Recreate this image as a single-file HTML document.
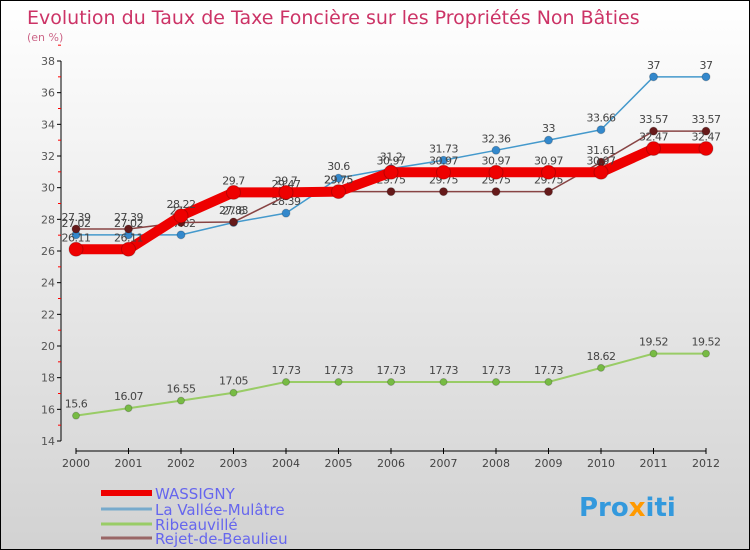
<!DOCTYPE html>
<html><head><meta charset="utf-8"><style>
body{margin:0}
#wrap{position:relative;width:748px;height:548px;border:1px solid #000;background:linear-gradient(#ffffff,#d2d2d2);font-family:"DejaVu Sans","Liberation Sans",sans-serif;overflow:hidden}
svg{position:absolute;left:0;top:0}
</style></head><body>
<div id="wrap">
<svg id="c" width="748" height="548">
<text x="26" y="23" font-size="19" fill="#cc3366">Evolution du Taux de Taxe Foncière sur les Propriétés Non Bâties</text>
<text x="26" y="40" font-size="11" fill="#cc6688">(en %)</text>
<text x="578" y="515" font-size="26" font-weight="bold" fill="#3399dd">Pro<tspan fill="#ff9900">x</tspan>iti</text>
</svg></div>
<script>
const years=[2000,2001,2002,2003,2004,2005,2006,2007,2008,2009,2010,2011,2012];
const wassigny=[26.11,26.11,28.22,29.7,29.7,29.75,30.97,30.97,30.97,30.97,30.97,32.47,32.47];
const vallee=[27.02,27.02,27.02,27.8,28.39,30.6,31.2,31.73,32.36,33,33.66,37,37];
const ribeau=[15.6,16.07,16.55,17.05,17.73,17.73,17.73,17.73,17.73,17.73,18.62,19.52,19.52];
const rejet=[27.39,27.39,27.8,27.83,29.47,29.75,29.75,29.75,29.75,29.75,31.61,33.57,33.57];
const yTicks=[14,16,18,20,22,24,26,28,30,32,34,36,38];
const names=["WASSIGNY","La Vallée-Mulâtre","Ribeauvillé","Rejet-de-Beaulieu"];
const NS="http://www.w3.org/2000/svg",svg=document.getElementById('c');
const X=i=>75+i*52.5, Y=v=>440-(v-14)*380/24;
function mk(t,a,p){const e=document.createElementNS(NS,t);for(const k in a)e.setAttribute(k,a[k]);(p||svg).appendChild(e);return e;}
let ax=mk('line',{x1:60,y1:60,x2:60,y2:440,stroke:'#000'});


yTicks.forEach(v=>{
 mk('line',{x1:56,y1:Y(v),x2:60,y2:Y(v),stroke:'#000'});
 mk('line',{x1:57,y1:Y(v+1),x2:60,y2:Y(v+1),stroke:'#f00'});
 const t=mk('text',{x:54,y:Y(v)+4,'font-size':11,fill:'#555','text-anchor':'end'});t.textContent=v;
 
 
});
let xa=mk('line',{x1:75,y1:450,x2:705,y2:450,stroke:'#000'});


years.forEach((y,i)=>{
 mk('line',{x1:X(i),y1:447,x2:X(i),y2:453,stroke:'#000'});
 const t=mk('text',{x:X(i),y:466,'font-size':11,fill:'#444','text-anchor':'middle'});t.textContent=y;
 
 
});
const series=[[vallee,'#4499cc',1.5,4,'#3388cc'],[ribeau,'#99cc66',2,3.5,'#77bb44'],[rejet,'#884444',1.5,4,'#661a1a'],[wassigny,'#ee0000',10,7,'#ee0000']];
const keys=['series-la-vallee-mulatre','series-ribeauville','series-rejet-de-beaulieu','series-wassigny'];
series.forEach((s,si)=>{
 const g=mk('g',{});
 
 
 mk('polyline',{points:s[0].map((v,i)=>X(i)+','+Y(v)).join(' '),fill:'none',stroke:s[1],'stroke-width':s[2],'stroke-linejoin':'round'},g);
 s[0].forEach((v,i)=>{
  const c=mk('circle',{cx:X(i),cy:Y(v),r:s[3],fill:s[4],stroke:'#0003'},g);
  
  
  const t=mk('text',{x:X(i),y:Y(v)-8,'font-size':11,fill:'#444','text-anchor':'middle','letter-spacing':'-0.5'},g);t.textContent=v;
  
  
 });
});
const lc=['#ee0000','#77aacc','#99cc66','#996666'],lw=[6,3,3,3],ly=[492,508,523,537];
names.forEach((n,i)=>{
 const g=mk('g',{});
 
 
 mk('line',{x1:100,y1:ly[i],x2:151,y2:ly[i],stroke:lc[i],'stroke-width':lw[i]},g);
 const t=mk('text',{x:154,y:ly[i]+6,'font-size':15,fill:'#6666ee'},g);t.textContent=n;
});
</script>
</body></html>
